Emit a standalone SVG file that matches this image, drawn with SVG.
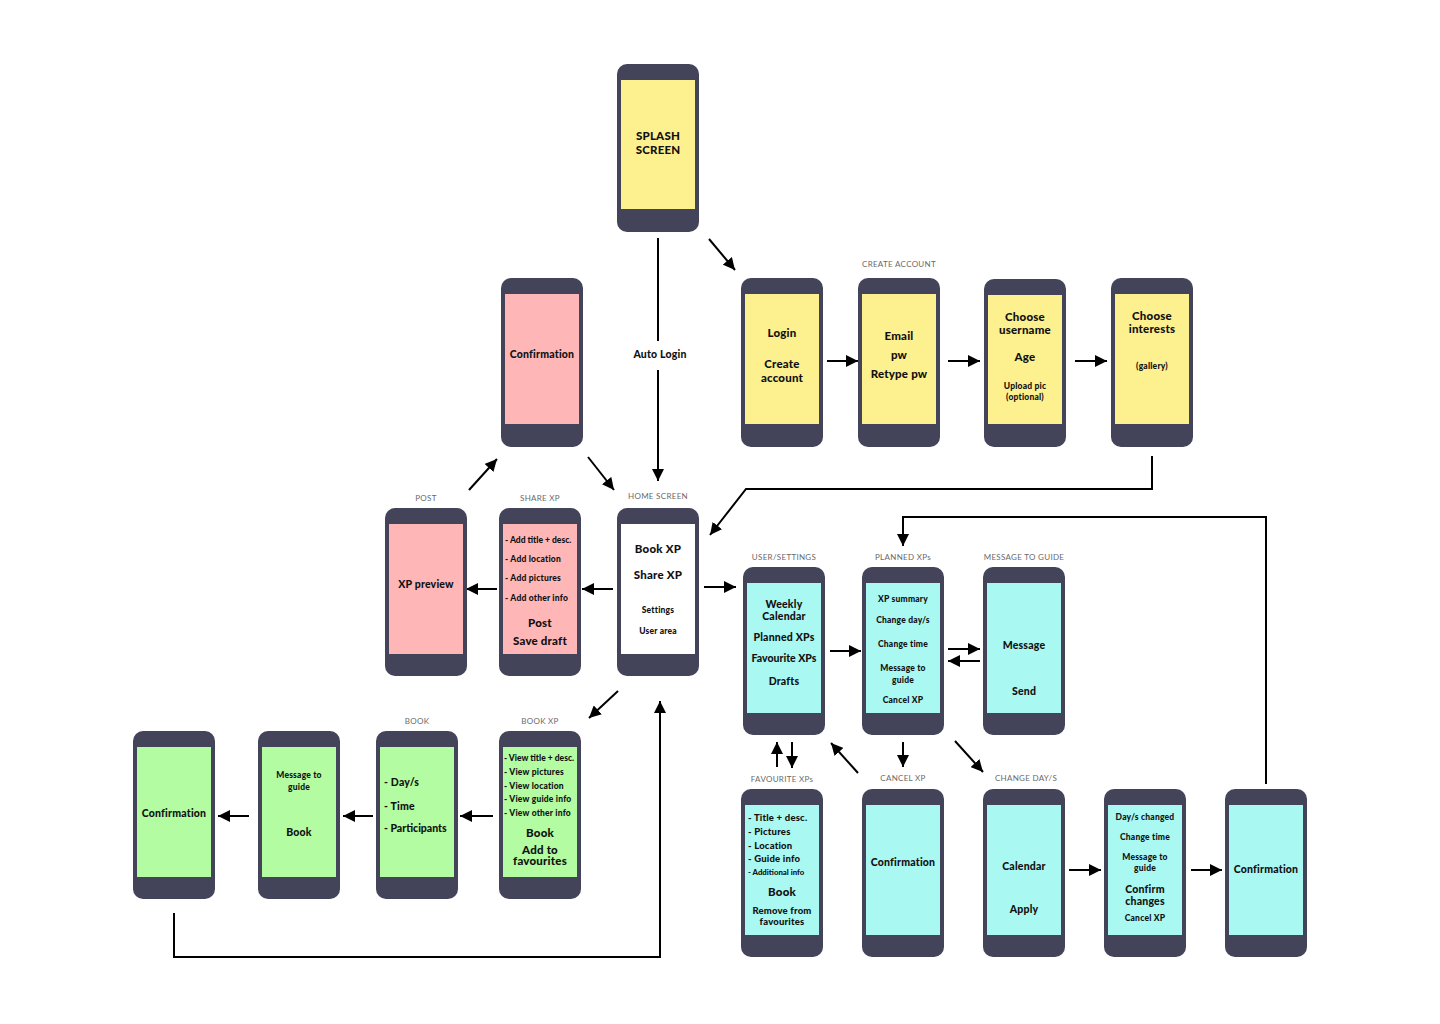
<svg xmlns="http://www.w3.org/2000/svg" width="1440" height="1024" viewBox="0 0 1440 1024">
<style>
.ph{fill:#43435a}
.y{fill:#fdf08f}.p{fill:#ffb6b6}.c{fill:#aaf8f2}.g{fill:#b3fca1}.w{fill:#ffffff}
text{font-family:Lato,"Liberation Sans",sans-serif;font-weight:900;fill:#111;letter-spacing:0.2px}
.m{text-anchor:middle}
.lb{font-weight:400;fill:#6a6a6a;font-size:8px;text-anchor:middle;letter-spacing:0.3px}
.s8{font-size:8.5px}.s9{font-size:9.5px}.s10{font-size:10.5px}.s11{font-size:11.5px}
.ln{stroke:#000;stroke-width:2;fill:none}
</style>
<defs>
<marker id="ah" markerUnits="userSpaceOnUse" markerWidth="13" markerHeight="12" refX="12" refY="6" orient="auto">
<path d="M0,0 L12,6 L0,12 Z" fill="#000"/>
</marker>
</defs>
<rect width="1440" height="1024" fill="#fff"/>

<g id="connectors">
<line class="ln" x1="658" y1="238" x2="658" y2="341"/>
<line class="ln" x1="658" y1="370" x2="658" y2="481" marker-end="url(#ah)"/>
<line class="ln" x1="709" y1="239" x2="735" y2="270" marker-end="url(#ah)"/>
<line class="ln" x1="827" y1="361" x2="858" y2="361" marker-end="url(#ah)"/>
<line class="ln" x1="948" y1="361" x2="980" y2="361" marker-end="url(#ah)"/>
<line class="ln" x1="1075" y1="361" x2="1107" y2="361" marker-end="url(#ah)"/>
<polyline class="ln" points="1152,456 1152,489 746,489 710,535" marker-end="url(#ah)"/>
<line class="ln" x1="704" y1="587" x2="736" y2="587" marker-end="url(#ah)"/>
<line class="ln" x1="613" y1="589" x2="582" y2="589" marker-end="url(#ah)"/>
<line class="ln" x1="497" y1="589" x2="466" y2="589" marker-end="url(#ah)"/>
<line class="ln" x1="469" y1="490" x2="497" y2="459" marker-end="url(#ah)"/>
<line class="ln" x1="588" y1="457" x2="614" y2="490" marker-end="url(#ah)"/>
<line class="ln" x1="830" y1="651" x2="861" y2="651" marker-end="url(#ah)"/>
<line class="ln" x1="948" y1="649" x2="980" y2="649" marker-end="url(#ah)"/>
<line class="ln" x1="980" y1="661" x2="948" y2="661" marker-end="url(#ah)"/>
<polyline class="ln" points="1266,784 1266,517 903,517 903,546" marker-end="url(#ah)"/>
<line class="ln" x1="903" y1="742" x2="903" y2="767" marker-end="url(#ah)"/>
<line class="ln" x1="777" y1="767" x2="777" y2="742" marker-end="url(#ah)"/>
<line class="ln" x1="792" y1="742" x2="792" y2="768" marker-end="url(#ah)"/>
<line class="ln" x1="858" y1="773" x2="831" y2="743" marker-end="url(#ah)"/>
<line class="ln" x1="955" y1="741" x2="983" y2="772" marker-end="url(#ah)"/>
<line class="ln" x1="1069" y1="870" x2="1101" y2="870" marker-end="url(#ah)"/>
<line class="ln" x1="1191" y1="870" x2="1222" y2="870" marker-end="url(#ah)"/>
<line class="ln" x1="618" y1="691" x2="589" y2="718" marker-end="url(#ah)"/>
<line class="ln" x1="493" y1="816" x2="460" y2="816" marker-end="url(#ah)"/>
<line class="ln" x1="373" y1="816" x2="343" y2="816" marker-end="url(#ah)"/>
<line class="ln" x1="249" y1="816" x2="218" y2="816" marker-end="url(#ah)"/>
<polyline class="ln" points="174,913 174,957 660,957 660,701" marker-end="url(#ah)"/>
<text class="s10 m" x="660" y="358">Auto Login</text>
</g>

<g id="labels">
<text class="lb" x="899" y="267">CREATE ACCOUNT</text>
<text class="lb" x="426" y="501">POST</text>
<text class="lb" x="540" y="501">SHARE XP</text>
<text class="lb" x="658" y="499">HOME SCREEN</text>
<text class="lb" x="784" y="560">USER/SETTINGS</text>
<text class="lb" x="903" y="560">PLANNED XPs</text>
<text class="lb" x="1024" y="560">MESSAGE TO GUIDE</text>
<text class="lb" x="782" y="782">FAVOURITE XPs</text>
<text class="lb" x="903" y="781">CANCEL XP</text>
<text class="lb" x="1026" y="781">CHANGE DAY/S</text>
<text class="lb" x="417" y="724">BOOK</text>
<text class="lb" x="540" y="724">BOOK XP</text>
</g>

<g id="splash">
<rect class="ph" x="617" y="64" width="82" height="168" rx="10"/>
<rect class="y" x="621" y="80" width="74" height="129"/>
<text class="s11 m" x="658" y="140">SPLASH</text>
<text class="s11 m" x="658" y="154">SCREEN</text>
</g>

<g id="login">
<rect class="ph" x="741" y="278" width="82" height="169" rx="10"/>
<rect class="y" x="745" y="294" width="74" height="130"/>
<text class="s11 m" x="782" y="337">Login</text>
<text class="s11 m" x="782" y="368">Create</text>
<text class="s11 m" x="782" y="382">account</text>
</g>

<g id="email">
<rect class="ph" x="858" y="278" width="82" height="169" rx="10"/>
<rect class="y" x="862" y="294" width="74" height="130"/>
<text class="s11 m" x="899" y="340">Email</text>
<text class="s11 m" x="899" y="359">pw</text>
<text class="s11 m" x="899" y="378">Retype pw</text>
</g>

<g id="username">
<rect class="ph" x="984" y="279" width="82" height="168" rx="10"/>
<rect class="y" x="988" y="295" width="74" height="129"/>
<text class="s11 m" x="1025" y="321">Choose</text>
<text class="s11 m" x="1025" y="334">username</text>
<text class="s11 m" x="1025" y="361">Age</text>
<text class="s8 m" x="1025" y="389">Upload pic</text>
<text class="s8 m" x="1025" y="400">(optional)</text>
</g>

<g id="interests">
<rect class="ph" x="1111" y="278" width="82" height="169" rx="10"/>
<rect class="y" x="1115" y="294" width="74" height="130"/>
<text class="s11 m" x="1152" y="320">Choose</text>
<text class="s11 m" x="1152" y="333">interests</text>
<text class="s8 m" x="1152" y="369">(gallery)</text>
</g>

<g id="confirm-share">
<rect class="ph" x="501" y="278" width="82" height="169" rx="10"/>
<rect class="p" x="505" y="294" width="74" height="130"/>
<text class="s10 m" x="542" y="358">Confirmation</text>
</g>

<g id="post">
<rect class="ph" x="385" y="508" width="82" height="168" rx="10"/>
<rect class="p" x="389" y="524" width="74" height="130"/>
<text class="s10 m" x="426" y="588">XP preview</text>
</g>

<g id="share-xp">
<rect class="ph" x="499" y="508" width="82" height="168" rx="10"/>
<rect class="p" x="503" y="524" width="74" height="130"/>
<text class="s8" x="505" y="543" style="letter-spacing:0">- Add title + desc.</text>
<text class="s8" x="505" y="562">- Add location</text>
<text class="s8" x="505" y="581">- Add pictures</text>
<text class="s8" x="505" y="601">- Add other info</text>
<text class="s11 m" x="540" y="627">Post</text>
<text class="s11 m" x="540" y="645">Save draft</text>
</g>

<g id="home">
<rect class="ph" x="617" y="508" width="82" height="168" rx="10"/>
<rect class="w" x="621" y="524" width="74" height="130"/>
<text class="s11 m" x="658" y="553">Book XP</text>
<text class="s11 m" x="658" y="579">Share XP</text>
<text class="s8 m" x="658" y="613">Settings</text>
<text class="s8 m" x="658" y="634">User area</text>
</g>

<g id="user-settings">
<rect class="ph" x="743" y="567" width="82" height="168" rx="10"/>
<rect class="c" x="747" y="583" width="74" height="130"/>
<text class="s10 m" x="784" y="608">Weekly</text>
<text class="s10 m" x="784" y="620">Calendar</text>
<text class="s10 m" x="784" y="641">Planned XPs</text>
<text class="s10 m" x="784" y="662" style="letter-spacing:0">Favourite XPs</text>
<text class="s10 m" x="784" y="685">Drafts</text>
</g>

<g id="planned">
<rect class="ph" x="862" y="567" width="82" height="168" rx="10"/>
<rect class="c" x="866" y="583" width="74" height="130"/>
<text class="s8 m" x="903" y="602">XP summary</text>
<text class="s8 m" x="903" y="623">Change day/s</text>
<text class="s8 m" x="903" y="647">Change time</text>
<text class="s8 m" x="903" y="671">Message to</text>
<text class="s8 m" x="903" y="683">guide</text>
<text class="s8 m" x="903" y="703">Cancel XP</text>
</g>

<g id="message">
<rect class="ph" x="983" y="567" width="82" height="168" rx="10"/>
<rect class="c" x="987" y="583" width="74" height="130"/>
<text class="s10 m" x="1024" y="649">Message</text>
<text class="s10 m" x="1024" y="695">Send</text>
</g>

<g id="favourites">
<rect class="ph" x="741" y="789" width="82" height="168" rx="10"/>
<rect class="c" x="745" y="805" width="74" height="130"/>
<text class="s9" x="748" y="821">- Title + desc.</text>
<text class="s9" x="748" y="835">- Pictures</text>
<text class="s9" x="748" y="849">- Location</text>
<text class="s9" x="748" y="862">- Guide info</text>
<text x="748" y="875" style="font-size:7.8px;letter-spacing:0">- Additional info</text>
<text class="s11 m" x="782" y="896">Book</text>
<text class="s9 m" x="782" y="914">Remove from</text>
<text class="s9 m" x="782" y="925">favourites</text>
</g>

<g id="cancel">
<rect class="ph" x="862" y="789" width="82" height="168" rx="10"/>
<rect class="c" x="866" y="805" width="74" height="130"/>
<text class="s10 m" x="903" y="866">Confirmation</text>
</g>

<g id="change-days">
<rect class="ph" x="983" y="789" width="82" height="168" rx="10"/>
<rect class="c" x="987" y="805" width="74" height="130"/>
<text class="s10 m" x="1024" y="870">Calendar</text>
<text class="s10 m" x="1024" y="913">Apply</text>
</g>

<g id="days-changed">
<rect class="ph" x="1104" y="789" width="82" height="168" rx="10"/>
<rect class="c" x="1108" y="805" width="74" height="130"/>
<text class="s8 m" x="1145" y="820">Day/s changed</text>
<text class="s8 m" x="1145" y="840">Change time</text>
<text class="s8 m" x="1145" y="860">Message to</text>
<text class="s8 m" x="1145" y="871">guide</text>
<text class="s10 m" x="1145" y="893">Confirm</text>
<text class="s10 m" x="1145" y="905">changes</text>
<text class="s8 m" x="1145" y="921">Cancel XP</text>
</g>

<g id="confirm-change">
<rect class="ph" x="1225" y="789" width="82" height="168" rx="10"/>
<rect class="c" x="1229" y="805" width="74" height="130"/>
<text class="s10 m" x="1266" y="873">Confirmation</text>
</g>

<g id="confirm-book">
<rect class="ph" x="133" y="731" width="82" height="168" rx="10"/>
<rect class="g" x="137" y="747" width="74" height="130"/>
<text class="s10 m" x="174" y="817">Confirmation</text>
</g>

<g id="message-book">
<rect class="ph" x="258" y="731" width="82" height="168" rx="10"/>
<rect class="g" x="262" y="747" width="74" height="130"/>
<text class="s8 m" x="299" y="778">Message to</text>
<text class="s8 m" x="299" y="790">guide</text>
<text class="s10 m" x="299" y="836">Book</text>
</g>

<g id="book">
<rect class="ph" x="376" y="731" width="82" height="168" rx="10"/>
<rect class="g" x="380" y="747" width="74" height="130"/>
<text class="s10" x="384" y="786">- Day/s</text>
<text class="s10" x="384" y="810">- Time</text>
<text class="s10" x="384" y="832" style="letter-spacing:0">- Participants</text>
</g>

<g id="book-xp">
<rect class="ph" x="499" y="731" width="82" height="168" rx="10"/>
<rect class="g" x="503" y="747" width="74" height="130"/>
<text class="s8" x="504" y="761" style="letter-spacing:0">- View title + desc.</text>
<text class="s8" x="504" y="775">- View pictures</text>
<text class="s8" x="504" y="789">- View location</text>
<text class="s8" x="504" y="802">- View guide info</text>
<text class="s8" x="504" y="816">- View other info</text>
<text class="s11 m" x="540" y="837">Book</text>
<text class="s11 m" x="540" y="854">Add to</text>
<text class="s11 m" x="540" y="865">favourites</text>
</g>
</svg>
